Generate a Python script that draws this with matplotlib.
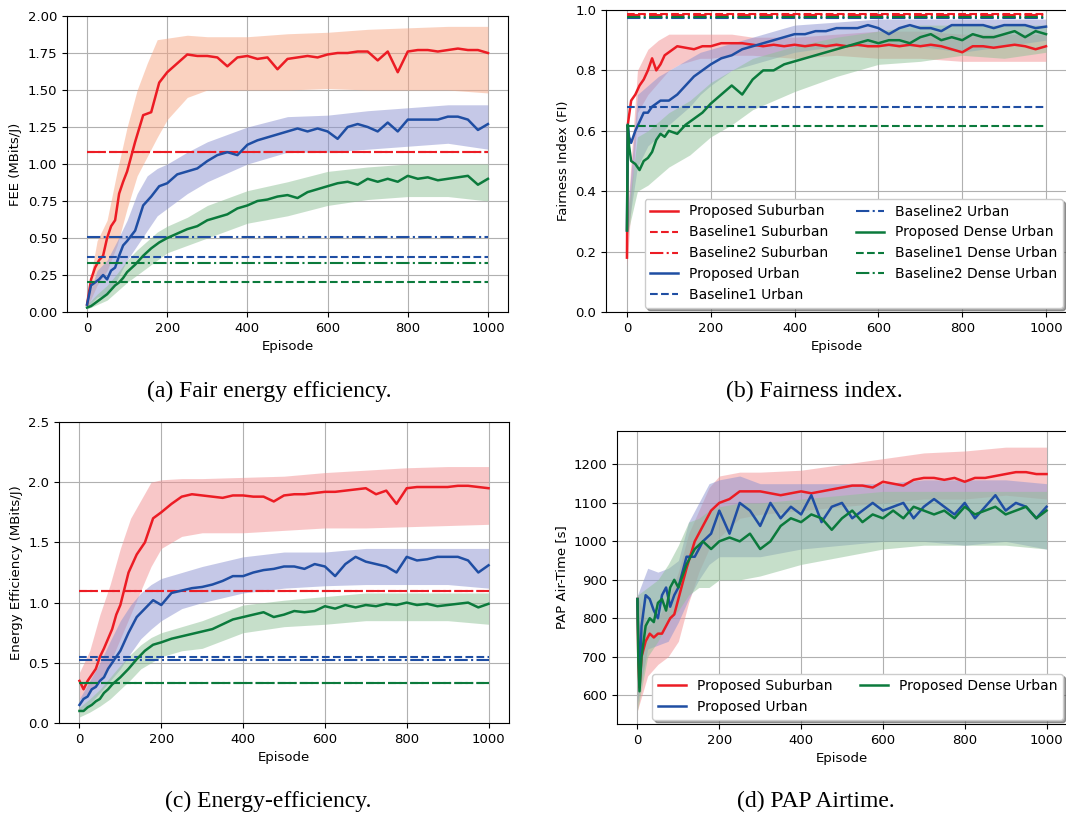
import numpy as np
import matplotlib
matplotlib.use("Agg")
import matplotlib.pyplot as plt

# episode grids (mean curves and shaded bands)
ep = [0, 10, 20, 30, 40, 50, 60, 70, 80, 90, 100, 120, 140, 160, 180, 200] + list(range(225, 1001, 25))
ep_bd = [0, 2, 5] + list(range(10, 101, 10)) + [120, 140, 160, 180, 200] + list(range(225, 1001, 25))
ep_band = [0, 25, 50, 75, 100, 125, 150, 175, 200, 250, 300, 400, 500, 600, 700, 800, 900, 1000]

# (a) FEE
fee_sub = [0.05, 0.22, 0.30, 0.35, 0.38, 0.50, 0.58, 0.62, 0.80, 0.88, 0.95,
           1.15, 1.33, 1.35, 1.55, 1.62,
           1.68, 1.74, 1.73, 1.73, 1.72, 1.66, 1.72, 1.73, 1.71, 1.72, 1.64, 1.71, 1.72, 1.73, 1.72, 1.74,
           1.75, 1.75, 1.76, 1.76, 1.70, 1.76, 1.62, 1.76, 1.77, 1.77, 1.76, 1.77, 1.78, 1.77, 1.77, 1.75]
fee_urb = [0.05, 0.18, 0.20, 0.22, 0.25, 0.22, 0.28, 0.30, 0.38, 0.45, 0.48,
           0.55, 0.72, 0.78, 0.85, 0.87,
           0.93, 0.95, 0.97, 1.02, 1.06, 1.08, 1.06, 1.13, 1.16, 1.18, 1.20, 1.22, 1.24, 1.22, 1.24, 1.22,
           1.17, 1.25, 1.27, 1.25, 1.22, 1.28, 1.22, 1.30, 1.30, 1.30, 1.30, 1.32, 1.32, 1.30, 1.23, 1.27]
fee_den = [0.03, 0.04, 0.06, 0.08, 0.10, 0.12, 0.15, 0.18, 0.20, 0.23, 0.27,
           0.32, 0.38, 0.43, 0.47, 0.50,
           0.53, 0.56, 0.58, 0.62, 0.64, 0.66, 0.70, 0.72, 0.75, 0.76, 0.78, 0.79, 0.77, 0.81, 0.83, 0.85,
           0.87, 0.88, 0.86, 0.90, 0.88, 0.90, 0.88, 0.92, 0.90, 0.91, 0.89, 0.90, 0.91, 0.92, 0.86, 0.90]
fee_sub_hi = [0.10, 0.48, 0.62, 0.95, 1.25, 1.50, 1.68, 1.84, 1.85, 1.87, 1.86, 1.86, 1.88, 1.89, 1.91, 1.92, 1.93, 1.93]
fee_sub_lo = [0.03, 0.18, 0.28, 0.45, 0.70, 0.92, 1.05, 1.18, 1.30, 1.45, 1.50, 1.50, 1.50, 1.51, 1.50, 1.50, 1.50, 1.48]
fee_urb_hi = [0.08, 0.28, 0.35, 0.48, 0.62, 0.80, 0.92, 0.97, 1.00, 1.08, 1.15, 1.25, 1.32, 1.33, 1.36, 1.38, 1.40, 1.40]
fee_urb_lo = [0.03, 0.10, 0.12, 0.22, 0.35, 0.45, 0.55, 0.65, 0.70, 0.80, 0.88, 1.00, 1.08, 1.08, 1.10, 1.12, 1.14, 1.10]
fee_den_hi = [0.05, 0.12, 0.18, 0.26, 0.35, 0.42, 0.48, 0.54, 0.58, 0.64, 0.72, 0.82, 0.88, 0.95, 0.98, 1.00, 1.00, 1.00]
fee_den_lo = [0.02, 0.05, 0.08, 0.14, 0.20, 0.25, 0.30, 0.35, 0.40, 0.45, 0.50, 0.60, 0.65, 0.72, 0.76, 0.78, 0.78, 0.75]
# baselines: [suburban, urban, dense urban]
fee_b1 = [1.083, 0.375, 0.205]
fee_b2 = [1.083, 0.506, 0.328]

# (b) Fairness index
fi_sub = [0.18, 0.62, 0.65, 0.70, 0.72, 0.75, 0.77, 0.80, 0.84, 0.80, 0.82, 0.85, 0.86,
          0.88, 0.875, 0.87, 0.88, 0.88,
          0.89, 0.89, 0.89, 0.885, 0.88, 0.885, 0.88, 0.885, 0.88, 0.885, 0.88, 0.885, 0.88, 0.885, 0.88, 0.88,
          0.885, 0.88, 0.885, 0.88, 0.885, 0.88, 0.87, 0.86, 0.88, 0.88, 0.875, 0.88, 0.885, 0.88, 0.87, 0.88]
fi_urb = [0.27, 0.62, 0.58, 0.56, 0.60, 0.63, 0.66, 0.66, 0.68, 0.69, 0.70, 0.70, 0.70,
          0.72, 0.75, 0.78, 0.80, 0.82,
          0.84, 0.85, 0.87, 0.88, 0.89, 0.90, 0.91, 0.92, 0.92, 0.93, 0.93, 0.94, 0.94, 0.94, 0.95, 0.94,
          0.92, 0.94, 0.95, 0.94, 0.94, 0.93, 0.95, 0.95, 0.95, 0.95, 0.94, 0.95, 0.95, 0.95, 0.94, 0.945]
fi_den = [0.27, 0.62, 0.55, 0.50, 0.49, 0.47, 0.50, 0.51, 0.53, 0.57, 0.59, 0.58, 0.60,
          0.59, 0.62, 0.64, 0.66, 0.69,
          0.72, 0.75, 0.72, 0.77, 0.80, 0.80, 0.82, 0.83, 0.84, 0.85, 0.86, 0.87, 0.88, 0.89, 0.90, 0.89,
          0.90, 0.90, 0.89, 0.91, 0.92, 0.90, 0.91, 0.90, 0.92, 0.91, 0.91, 0.92, 0.93, 0.91, 0.93, 0.92]
fi_sub_hi = [0.30, 0.80, 0.87, 0.90, 0.92, 0.92, 0.92, 0.92, 0.92, 0.92, 0.91, 0.91, 0.92, 0.93, 0.93, 0.92, 0.92, 0.92]
fi_sub_lo = [0.15, 0.66, 0.72, 0.76, 0.80, 0.82, 0.83, 0.84, 0.84, 0.85, 0.85, 0.84, 0.85, 0.84, 0.84, 0.83, 0.83, 0.83]
fi_urb_hi = [0.30, 0.72, 0.75, 0.78, 0.80, 0.82, 0.84, 0.86, 0.87, 0.89, 0.91, 0.95, 0.96, 0.97, 0.97, 0.97, 0.97, 0.97]
fi_urb_lo = [0.25, 0.48, 0.55, 0.58, 0.62, 0.65, 0.68, 0.72, 0.75, 0.80, 0.82, 0.86, 0.88, 0.88, 0.88, 0.86, 0.88, 0.90]
fi_den_hi = [0.30, 0.58, 0.60, 0.63, 0.66, 0.68, 0.70, 0.73, 0.76, 0.80, 0.84, 0.88, 0.91, 0.93, 0.95, 0.95, 0.95, 0.95]
fi_den_lo = [0.25, 0.40, 0.42, 0.45, 0.48, 0.50, 0.52, 0.55, 0.58, 0.62, 0.67, 0.73, 0.78, 0.82, 0.83, 0.85, 0.84, 0.86]
fi_b1 = [0.987, 0.680, 0.617]
fi_b2 = [0.983, 0.972, 0.978]

# (c) Energy efficiency
ee_sub = [0.35, 0.28, 0.35, 0.40, 0.45, 0.55, 0.62, 0.70, 0.78, 0.90, 0.98,
          1.25, 1.40, 1.50, 1.70, 1.75,
          1.82, 1.88, 1.90, 1.89, 1.88, 1.87, 1.89, 1.89, 1.88, 1.88, 1.84, 1.89, 1.90, 1.90, 1.91, 1.92,
          1.92, 1.93, 1.94, 1.95, 1.90, 1.93, 1.82, 1.95, 1.96, 1.96, 1.96, 1.96, 1.97, 1.97, 1.96, 1.95]
ee_urb = [0.15, 0.20, 0.22, 0.28, 0.30, 0.35, 0.38, 0.45, 0.50, 0.55, 0.60,
          0.75, 0.88, 0.95, 1.02, 0.98,
          1.08, 1.10, 1.12, 1.13, 1.15, 1.18, 1.22, 1.22, 1.25, 1.27, 1.28, 1.30, 1.30, 1.28, 1.32, 1.30,
          1.22, 1.32, 1.38, 1.34, 1.32, 1.30, 1.25, 1.38, 1.35, 1.36, 1.38, 1.38, 1.38, 1.35, 1.25, 1.31]
ee_den = [0.10, 0.10, 0.13, 0.15, 0.18, 0.20, 0.25, 0.28, 0.32, 0.35, 0.38,
          0.45, 0.53, 0.60, 0.65, 0.67,
          0.70, 0.72, 0.74, 0.76, 0.78, 0.82, 0.86, 0.88, 0.90, 0.92, 0.88, 0.90, 0.93, 0.92, 0.93, 0.97,
          0.95, 0.98, 0.96, 0.98, 0.97, 0.99, 0.98, 1.00, 0.98, 0.99, 0.97, 0.98, 0.99, 1.00, 0.96, 0.99]
ee_sub_hi = [0.42, 0.60, 0.90, 1.15, 1.45, 1.70, 1.85, 2.00, 2.02, 2.03, 2.03, 2.04, 2.05, 2.08, 2.10, 2.12, 2.13, 2.13]
ee_sub_lo = [0.20, 0.25, 0.35, 0.50, 0.70, 0.90, 1.10, 1.30, 1.45, 1.55, 1.58, 1.58, 1.60, 1.62, 1.62, 1.63, 1.64, 1.65]
ee_urb_hi = [0.20, 0.35, 0.50, 0.68, 0.85, 0.98, 1.08, 1.15, 1.20, 1.25, 1.30, 1.38, 1.42, 1.42, 1.45, 1.45, 1.45, 1.45]
ee_urb_lo = [0.10, 0.16, 0.25, 0.35, 0.45, 0.58, 0.70, 0.78, 0.85, 0.95, 1.00, 1.08, 1.12, 1.14, 1.15, 1.15, 1.15, 1.12]
ee_den_hi = [0.13, 0.20, 0.28, 0.38, 0.48, 0.57, 0.65, 0.71, 0.75, 0.80, 0.85, 0.98, 1.02, 1.05, 1.08, 1.08, 1.08, 1.08]
ee_den_lo = [0.05, 0.09, 0.14, 0.20, 0.28, 0.36, 0.45, 0.50, 0.55, 0.60, 0.62, 0.75, 0.80, 0.82, 0.85, 0.85, 0.85, 0.82]
ee_b1 = [1.100, 0.548, 0.333]
ee_b2 = [1.100, 0.520, 0.333]

# (d) PAP air-time
pap_sub = [850, 700, 620, 700, 740, 760, 750, 760, 760, 780, 800, 810, 850,
           930, 1000, 1040, 1080, 1100,
           1110, 1130, 1130, 1130, 1125, 1120, 1125, 1130, 1125, 1130, 1135, 1140, 1145, 1145, 1140, 1155,
           1150, 1145, 1160, 1165, 1165, 1160, 1165, 1155, 1165, 1165, 1170, 1175, 1180, 1180, 1175, 1175]
pap_urb = [850, 750, 640, 780, 860, 850, 820, 800, 860, 880, 830, 860, 880,
           960, 960, 1000, 1020, 1080,
           1020, 1100, 1080, 1040, 1100, 1060, 1090, 1070, 1120, 1050, 1090, 1100, 1060, 1080, 1100, 1080,
           1090, 1100, 1060, 1090, 1110, 1090, 1070, 1100, 1060, 1090, 1120, 1080, 1100, 1090, 1060, 1090]
pap_den = [850, 700, 610, 700, 780, 800, 790, 840, 850, 820, 880, 900, 880,
           940, 980, 1000, 980, 1000,
           1010, 1000, 1020, 980, 1000, 1040, 1060, 1050, 1070, 1060, 1030, 1060, 1080, 1050, 1070, 1060,
           1080, 1060, 1090, 1080, 1070, 1080, 1060, 1090, 1070, 1080, 1090, 1070, 1080, 1090, 1060, 1080]
pap_sub_hi = [860, 780, 800, 850, 920, 1020, 1080, 1140, 1170, 1180, 1180, 1185, 1200, 1215, 1230, 1235, 1245, 1245]
pap_sub_lo = [560, 650, 680, 700, 740, 840, 920, 980, 1010, 1060, 1070, 1080, 1090, 1100, 1110, 1110, 1120, 1110]
pap_urb_hi = [860, 930, 920, 930, 950, 1050, 1100, 1150, 1160, 1170, 1150, 1150, 1150, 1150, 1160, 1160, 1160, 1150]
pap_urb_lo = [580, 720, 730, 740, 790, 850, 900, 940, 960, 960, 960, 980, 990, 1000, 1000, 990, 1000, 980]
pap_den_hi = [860, 880, 900, 940, 990, 1050, 1060, 1080, 1090, 1100, 1100, 1110, 1120, 1130, 1130, 1130, 1130, 1130]
pap_den_lo = [560, 700, 740, 790, 820, 860, 880, 880, 900, 900, 910, 940, 960, 980, 990, 990, 990, 980]

areas = ["Suburban", "Urban", "Dense Urban"]
line_colors = ["#ec1c24", "#1f4ea3", "#0b7a3c"]
band_colors = ["#f39193", "#8c93d1", "#8fc196"]

plt.rcParams["font.family"] = "DejaVu Sans"
plt.rcParams["font.size"] = 9.5

W, H = 1066, 817
fig = plt.figure(figsize=(W / 100, H / 100), dpi=100)


def box(left, top, right, bottom):
    return [left / W, 1 - bottom / H, (right - left) / W, (bottom - top) / H]


def setup(ax, ylabel):
    ax.set_xlim(-50, 1050)
    ax.set_xticks([0, 200, 400, 600, 800, 1000])
    ax.set_xlabel("Episode", fontsize=9.5)
    ax.set_ylabel(ylabel, fontsize=9.5)
    ax.grid(True, color="#b0b0b0", linewidth=0.8)
    ax.set_axisbelow(True)
    ax.tick_params(labelsize=9.5)


def draw(ax, x, means, his, los, b1=None, b2=None, band0=None):
    for i in range(3):
        bc = band_colors[i] if (i > 0 or band0 is None) else band0
        ax.fill_between(ep_band, los[i], his[i], color=bc, alpha=0.5, linewidth=0)
    for i in range(3):
        ax.plot(x, means[i], color=line_colors[i], lw=1.8, label="Proposed " + areas[i])
        if b1 is not None:
            ax.plot([0, 1000], [b1[i], b1[i]], color=line_colors[i], lw=1.5, ls="--",
                    label="Baseline1 " + areas[i])
            ax.plot([0, 1000], [b2[i], b2[i]], color=line_colors[i], lw=1.5, ls="-.",
                    label="Baseline2 " + areas[i])


# (a)
ax_a = fig.add_axes(box(67, 16, 508, 312))
draw(ax_a, ep, [fee_sub, fee_urb, fee_den], [fee_sub_hi, fee_urb_hi, fee_den_hi],
     [fee_sub_lo, fee_urb_lo, fee_den_lo], fee_b1, fee_b2, band0="#f7a683")
setup(ax_a, "FEE (MBits/J)")
ax_a.set_ylim(0, 2.0)
ax_a.set_yticks(np.arange(0, 2.01, 0.25))
ax_a.yaxis.set_major_formatter(matplotlib.ticker.FormatStrFormatter("%.2f"))

# (b)
ax_b = fig.add_axes(box(606, 10, 1067, 312))
draw(ax_b, ep_bd, [fi_sub, fi_urb, fi_den], [fi_sub_hi, fi_urb_hi, fi_den_hi],
     [fi_sub_lo, fi_urb_lo, fi_den_lo], fi_b1, fi_b2)
setup(ax_b, "Fairness Index (FI)")
ax_b.set_ylim(0, 1.0)
ax_b.set_yticks(np.arange(0, 1.01, 0.2))
ax_b.legend(ncol=2, loc="lower right", fontsize=10, shadow=True, framealpha=1,
            borderaxespad=0.3)

# (c)
ax_c = fig.add_axes(box(59, 422, 509, 723))
draw(ax_c, ep, [ee_sub, ee_urb, ee_den], [ee_sub_hi, ee_urb_hi, ee_den_hi],
     [ee_sub_lo, ee_urb_lo, ee_den_lo], ee_b1, ee_b2)
setup(ax_c, "Energy Efficiency (MBits/J)")
ax_c.set_ylim(0, 2.5)
ax_c.set_yticks(np.arange(0, 2.51, 0.5))

# (d)
ax_d = fig.add_axes(box(617, 431, 1067, 724))
draw(ax_d, ep_bd, [pap_sub, pap_urb, pap_den], [pap_sub_hi, pap_urb_hi, pap_den_hi],
     [pap_sub_lo, pap_urb_lo, pap_den_lo])
setup(ax_d, "PAP Air-Time [s]")
ax_d.set_ylim(525, 1287)
ax_d.set_yticks(range(600, 1201, 100))
ax_d.legend(ncol=2, loc="lower right", fontsize=10, shadow=True, framealpha=1,
            borderaxespad=0.3)

# captions
cap = dict(family="Liberation Serif", fontsize=17, ha="center", va="center")
fig.text(269 / W, 1 - 391 / H, "(a) Fair energy efficiency.", **cap)
fig.text(814 / W, 1 - 391 / H, "(b) Fairness index.", **cap)
fig.text(268 / W, 1 - 801 / H, "(c) Energy-efficiency.", **cap)
fig.text(816 / W, 1 - 801 / H, "(d) PAP Airtime.", **cap)

fig.savefig("out.png", dpi=100)
